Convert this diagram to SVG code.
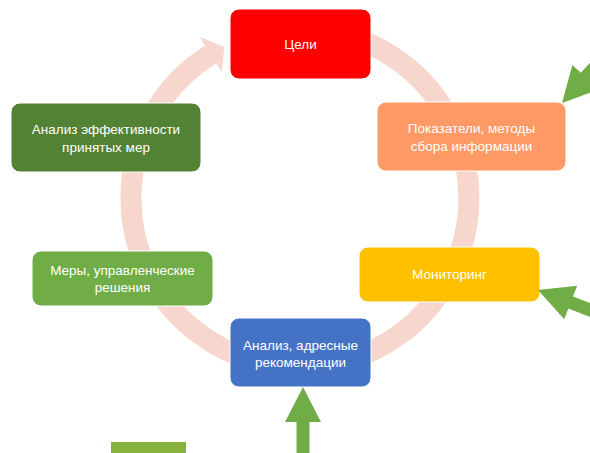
<svg xmlns="http://www.w3.org/2000/svg" width="590" height="453" viewBox="0 0 590 453">
<style>
.box{stroke:#ffffff;stroke-width:1}
.t{font-family:"Liberation Sans",Arial,sans-serif;font-size:13.5px;fill:#ffffff;text-anchor:middle}
.ga{fill:#70AD47}
</style>
<defs>
<path id="garrow" d="M0,0 L35,-18 L35,-6.5 L220,-6.5 L220,6.5 L35,6.5 L35,18 Z"/>
</defs>
<rect width="590" height="453" fill="#ffffff"/>
<g id="connectors">
<path d="M236.7,41.3 A169,169 0 1 1 210.7,54.5" fill="none" stroke="#F7D7CD" stroke-width="21"/>
<polygon points="199.6,36.7 224.3,46.9 221.8,72.3" fill="#F7D7CD"/>
</g>
<g id="n1"><rect class="box" x="230" y="9" width="141" height="70" rx="9" fill="#FF0000"/><text class="t" x="300.5" y="49">Цели</text></g>
<g id="n2"><rect class="box" x="377" y="102" width="189" height="69" rx="9" fill="#FF9966"/><text class="t" x="471.5" y="133">Показатели, методы</text><text class="t" x="471.5" y="151">сбора информации</text></g>
<g id="n3"><rect class="box" x="359" y="247" width="181" height="55" rx="9" fill="#FFC000"/><text class="t" x="449.5" y="279">Мониторинг</text></g>
<g id="n4"><rect class="box" x="230" y="318" width="141" height="69" rx="9" fill="#4472C4"/><text class="t" x="300.5" y="350">Анализ, адресные</text><text class="t" x="300.5" y="367">рекомендации</text></g>
<g id="n5"><rect class="box" x="32" y="251" width="181" height="55" rx="9" fill="#70AD47"/><text class="t" x="122.5" y="275">Меры, управленческие</text><text class="t" x="122.5" y="292">решения</text></g>
<g id="n6"><rect class="box" x="11" y="103" width="190" height="69" rx="9" fill="#548235"/><text class="t" x="106" y="134">Анализ эффективности</text><text class="t" x="106" y="152">принятых мер</text></g>
<g id="arrows">
<use href="#garrow" class="ga" transform="translate(562,103) rotate(-47.5)"/>
<use href="#garrow" class="ga" transform="translate(538,290) rotate(21)"/>
<use href="#garrow" class="ga" transform="translate(303,387) rotate(90)"/>
</g>
<rect id="n7" x="111" y="442" width="75" height="11" fill="#88B23E"/>
</svg>
